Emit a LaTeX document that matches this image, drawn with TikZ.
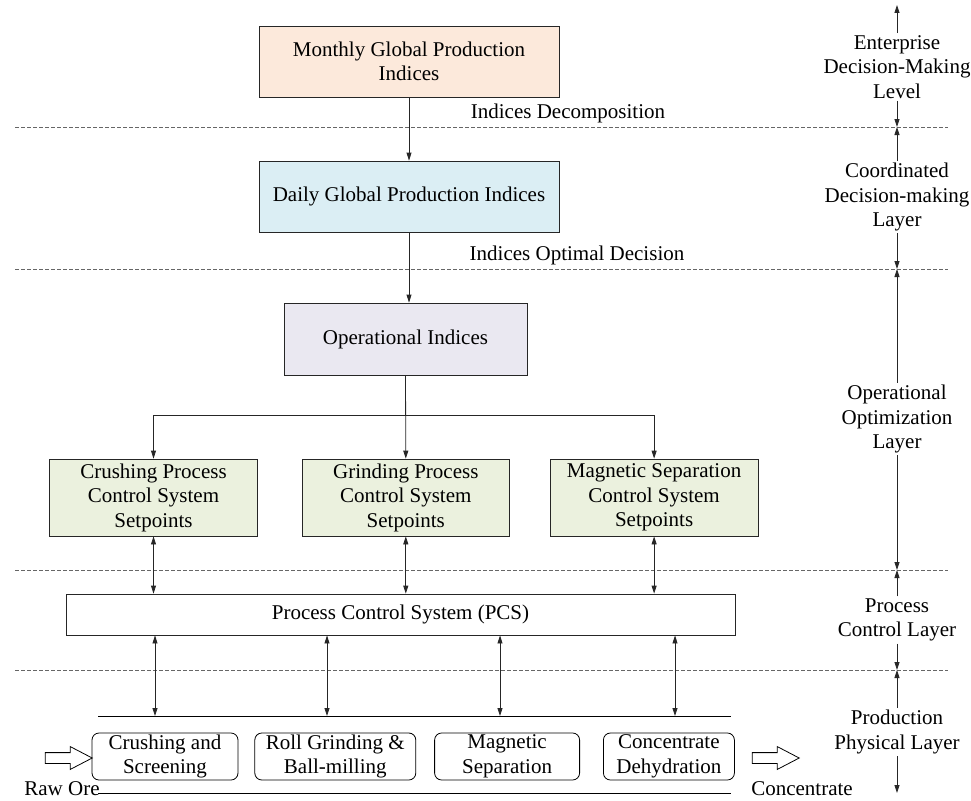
\documentclass[tikz,border=0pt]{standalone}
\usepackage{fontspec}
\setmainfont{Liberation Serif}
\usepackage{xcolor}
\usetikzlibrary{positioning,shapes.arrows,arrows.meta}

\definecolor{monthfill}{HTML}{FCE9DB}
\definecolor{dayfill}{HTML}{DBEEF4}
\definecolor{opfill}{HTML}{EAE8F1}
\definecolor{spfill}{HTML}{EBF1DE}

\begin{document}
\begin{tikzpicture}[
    x=1pt, y=-1pt,
    font=\fontsize{21}{24.5}\selectfont,
    box/.style={
        rectangle, draw=black!85, line width=0.8pt,
        align=center, inner sep=0pt
    },
    procbox/.style={
        rectangle, rounded corners=7pt, draw=black, line width=0.8pt,
        align=center, minimum height=47pt, inner sep=0pt
    },
    arrow/.style={-{Triangle[length=8pt,width=5pt]}, line width=0.8pt, black!85},
    darrow/.style={{Triangle[length=8pt,width=5pt]}-{Triangle[length=8pt,width=5pt]}, line width=0.8pt, black!85},
    sep/.style={dash pattern=on 4pt off 2pt, black!60, line width=0.8pt},
    layer/.style={align=center, inner sep=2pt},
    hollow/.style={
        single arrow, draw, line width=0.8pt, inner sep=5pt,
        minimum height=47pt, minimum width=22pt,
        single arrow head extend=6pt, single arrow tip angle=55
    }
]
\useasboundingbox (0,0) rectangle (971,800);

% index boxes
\node[box, fill=monthfill, minimum width=300pt, minimum height=71pt] (month) at (409,61.5) {Monthly Global Production\\Indices};
\node[box, fill=dayfill, minimum width=300pt, minimum height=71pt] (day) at (409,196.5) {Daily Global Production Indices};
\node[box, fill=opfill, minimum width=243pt, minimum height=72pt] (opidx) at (405.5,339) {Operational Indices};

\node (decomp) at (568,113) {Indices Decomposition};
\node (optdec) at (577,255) {Indices Optimal Decision};

% setpoints
\node[box, fill=spfill, minimum width=208pt, minimum height=77pt] (crsp) at (153.5,497.5) {Crushing Process\\Control System\\Setpoints};
\node[box, fill=spfill, minimum width=207pt, minimum height=77pt, right=44pt of crsp] (grsp) {Grinding Process\\Control System\\Setpoints};
\node[box, fill=spfill, minimum width=208pt, minimum height=77pt, right=40pt of grsp] (mgsp) {Magnetic Separation\\Control System\\Setpoints};

\node[box, minimum width=669pt, minimum height=41pt] (pcs) at (400.5,614.5) {Process Control System (PCS)};

% production line
\node[procbox, minimum width=146pt] (crush) at (165,756.5) {Crushing and\\Screening};
\node[procbox, minimum width=161pt, right=16pt of crush] (grind) {Roll Grinding \&\\Ball-milling};
\node[procbox, minimum width=145pt, right=18pt of grind] (magsep) {Magnetic\\Separation};
\node[procbox, minimum width=131pt, right=23pt of magsep] (dehyd) {Concentrate\\Dehydration};

\node[hollow] (orein) at (63.5,758) {};
\node[hollow] (concout) at (770.5,758) {};
\node (rawore) at (62,789) {Raw Ore};
\node (conc) at (802,789) {Concentrate};

\coordinate (busTL) at (98,716);
\coordinate (busTR) at (731,716);
\coordinate (busBL) at (98,793);
\coordinate (busBR) at (731,793);
\draw[line width=0.8pt] (busTL) -- (busTR);
\draw[line width=0.8pt] (busBL) -- (busBR);

% layer separators
\foreach \yy in {127,269,570,670}
    \draw[sep] (15,\yy) -- (948,\yy);

% connectors
\draw[arrow] (month) -- (day);
\draw[arrow] (day.south) -- (day.south |- opidx.north);
\draw[arrow] (opidx.south) -- ++(0,40) -| (crsp.north);
\draw[arrow] (opidx.south) -- (grsp.north);
\draw[arrow] (opidx.south) -- ++(0,40) -| (mgsp.north);

\draw[darrow] (crsp) -- (crsp |- pcs.north);
\draw[darrow] (grsp) -- (grsp |- pcs.north);
\draw[darrow] (mgsp) -- (mgsp |- pcs.north);

\foreach \xx [count=\i] in {155,327,500,675} {
    \coordinate (tap\i) at (\xx,716);
    \draw[darrow] (pcs.south -| tap\i) -- (tap\i);
}

% layer labels on the right
\node[layer] (lv1) at (897,67) {Enterprise\\Decision-Making\\Level};
\node[layer] (lv2) at (897,197) {Coordinated\\Decision-making\\Layer};
\node[layer] (lv3) at (897,419) {Operational\\Optimization\\Layer};
\node[layer] (lv4) at (897,620) {Process\\Control Layer};
\node[layer] (lv5) at (897,732) {Production\\Physical Layer};

\coordinate (ltop) at (897,5);
\coordinate (l1) at (897,127);
\coordinate (l2) at (897,269);
\coordinate (l3) at (897,570);
\coordinate (l4) at (897,670);
\coordinate (lbot) at (897,793);

\draw[arrow] (lv1) -- (ltop);
\draw[arrow] (lv1) -- (l1);
\draw[arrow] (lv2) -- (l1);
\draw[arrow] (lv2) -- (l2);
\draw[arrow] (lv3) -- (l2);
\draw[arrow] (lv3) -- (l3);
\draw[arrow] (lv4) -- (l3);
\draw[arrow] (lv4) -- (l4);
\draw[arrow] (lv5) -- (l4);
\draw[arrow] (lv5) -- (lbot);

\end{tikzpicture}
\end{document}
